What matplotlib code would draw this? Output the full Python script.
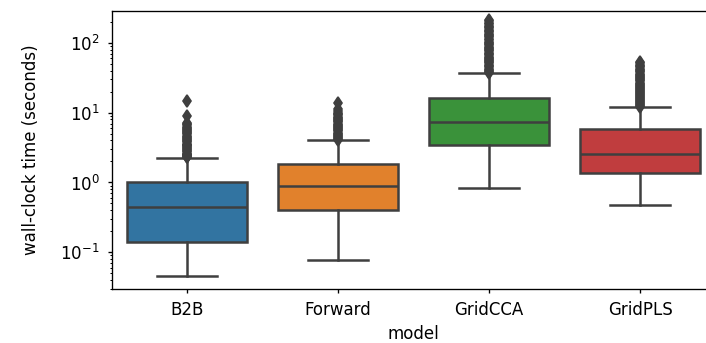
import matplotlib
matplotlib.use('Agg')
import matplotlib.pyplot as plt

models = ['B2B', 'Forward', 'GridCCA', 'GridPLS']
colors = ['#3274a1', '#e1812c', '#3a923a', '#c03d3e']
# box summary (seconds)
q1 = [0.138, 0.40, 3.4, 1.35]
med = [0.44, 0.90, 7.3, 2.6]
q3 = [1.0, 1.87, 16.5, 5.75]
whislo = [0.046, 0.078, 0.82, 0.48]
whishi = [2.28, 4.0, 36.6, 11.9]
fliers_b2b = [2.3, 2.35, 2.4, 2.45, 2.5, 2.55, 2.6, 2.7, 2.8, 2.9, 3.0, 3.1, 3.2,
              3.3, 3.4, 3.5, 3.6, 3.75, 3.9, 4.05, 4.2, 4.35, 4.5, 4.7, 4.9,
              5.1, 5.3, 5.5, 5.7, 5.9, 6.1, 6.3, 6.6, 6.9, 7.2, 8.9, 14.7]
fliers_fwd = [4.05, 4.2, 4.35, 4.5, 4.65, 4.8, 5.0, 5.2, 5.4, 5.6, 5.8, 6.0,
              6.25, 6.5, 6.75, 7.0, 7.3, 7.6, 7.9, 8.2, 8.5, 8.8, 9.2, 9.6,
              10.0, 10.5, 11.2, 14.0]
fliers_cca = [37, 38.5, 40, 41.5, 43, 45, 47, 49, 51, 53, 55, 57, 59, 61, 64, 67,
              70, 73, 76, 79, 82, 85, 89, 93, 97, 101, 105, 110, 115, 120, 125,
              130, 136, 142, 148, 155, 162, 170, 178, 186, 195, 205, 212]
fliers_pls = [12.1, 12.5, 12.9, 13.3, 13.7, 14.2, 14.7, 15.2, 15.7, 16.2, 16.8,
              17.4, 18.0, 18.6, 19.2, 19.9, 20.6, 21.3, 22.0, 22.8, 23.6, 24.4,
              25.3, 26.2, 27.1, 28.1, 29.1, 30.2, 31.3, 32.5, 33.7, 35, 36.5,
              38, 39.5, 41, 43, 45, 47, 49, 51, 53]
fliers = [fliers_b2b, fliers_fwd, fliers_cca, fliers_pls]

gray = '#3f3f3f'
fig = plt.figure(figsize=(706 / 120, 343 / 120), dpi=120)
ax = fig.add_axes([0.158, 0.157, 0.8555, 0.811])

stats = []
for i in range(len(models)):
    stats.append({'med': med[i], 'q1': q1[i], 'q3': q3[i],
                  'whislo': whislo[i], 'whishi': whishi[i],
                  'fliers': fliers[i], 'label': models[i]})

bp = ax.bxp(stats, positions=range(len(models)), widths=0.8, patch_artist=True,
            boxprops=dict(edgecolor=gray, linewidth=1.5),
            medianprops=dict(color=gray, linewidth=1.5),
            whiskerprops=dict(color=gray, linewidth=1.5),
            capprops=dict(color=gray, linewidth=1.5),
            flierprops=dict(marker='d', markerfacecolor=gray, markeredgecolor=gray,
                            markersize=5, linestyle='none'))
for patch, c in zip(bp['boxes'], colors):
    patch.set_facecolor(c)

ax.set_yscale('log')
ax.set_ylim(0.0295, 288)
ax.set_xlim(-0.5, 3.5)
ax.set_xticks(range(len(models)))
ax.set_xticklabels(models)
ax.tick_params(which='major', length=2.5, pad=4.5)
ax.tick_params(which='minor', length=1.5)
ax.set_xlabel('model')
ax.set_ylabel('wall-clock time (seconds)', labelpad=12)

fig.savefig('out.png', dpi=120)
